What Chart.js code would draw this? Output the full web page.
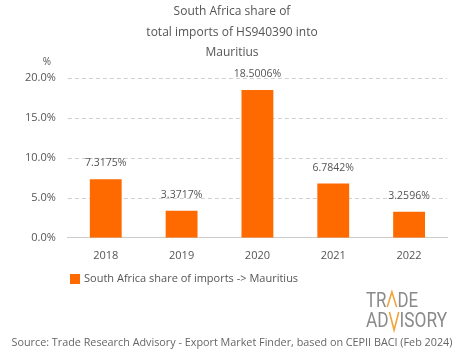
<!DOCTYPE html>
<html><head><meta charset="utf-8">
<script src="https://cdn.jsdelivr.net/npm/chart.js@4/dist/chart.umd.min.js"></script>
<style>html,body{margin:0;padding:0;background:#fff}#w{width:465px;height:359px;position:relative}</style>
</head><body><div id="w"><canvas id="c" width="465" height="359"></canvas></div>
<script>
const categories = ["2018","2019","2020","2021","2022"];
const shareValues = [7.3175, 3.3717, 18.5006, 6.7842, 3.2596];
const yTicks = [0, 5, 10, 15, 20];
const seriesName = "South Africa share of imports -> Mauritius";
const titleLines = ["South Africa share of","total imports of HS940390 into","Mauritius"];
const sourceText = "Source: Trade Research Advisory - Export Market Finder, based on CEPII BACI (Feb 2024)";
const FONT = "'Open Sans', sans-serif";
const TXT = "#555";
const BAR = '#ff6a00';

function drawWord(ctx, parts, x, y, targetW) {
  ctx.font = "21px 'Roboto', sans-serif";
  let total = 0;
  parts.forEach(p => total += ctx.measureText(p[0]).width);
  const sx = targetW / total;
  ctx.save();
  ctx.translate(x, y);
  ctx.scale(sx, 1);
  let cx = 0;
  parts.forEach(p => {
    const w = ctx.measureText(p[0]).width;
    if (p[1] === 'A') {
      ctx.strokeStyle = '#f2a33a'; ctx.lineWidth = 1.6 / sx;
      ctx.beginPath(); ctx.moveTo(cx + 1, 0); ctx.lineTo(cx + w / 2, -15); ctx.lineTo(cx + w - 1, 0); ctx.stroke();
    } else if (p[1] === 'V') {
      ctx.strokeStyle = '#f2a33a'; ctx.lineWidth = 1.6 / sx;
      ctx.beginPath(); ctx.moveTo(cx + 1, -15); ctx.lineTo(cx + w / 2, 3); ctx.lineTo(cx + w - 1, -15); ctx.stroke();
    } else {
      ctx.fillStyle = '#8a8a8a';
      ctx.fillText(p[0], cx, 0);
    }
    cx += w;
  });
  ctx.restore();
}

const extras = {
  id: 'extras',
  beforeDatasetsDraw(chart) {
    const ctx = chart.ctx, ys = chart.scales.y, a = chart.chartArea;
    ctx.save();
    ctx.strokeStyle = '#d0d0d0';
    ctx.lineWidth = 1;
    ctx.setLineDash([4, 3]);
    yTicks.forEach(v => {
      if (v === 0) return;
      const y = Math.round(ys.getPixelForValue(v)) + 0.5;
      ctx.beginPath(); ctx.moveTo(a.left, y); ctx.lineTo(a.right, y); ctx.stroke();
    });
    ctx.restore();
  },
  afterDraw(chart) {
    const ctx = chart.ctx;
    ctx.save();
    ctx.fillStyle = TXT;
    ctx.textAlign = 'center';
    ctx.textBaseline = 'middle';
    ctx.font = "12px " + FONT;
    const tys = [12, 33, 53];
    titleLines.forEach((t, i) => ctx.fillText(t, 232, tys[i]));
    ctx.font = "10px " + FONT;
    ctx.fillText('%', 47, 62);
    // data labels
    const meta = chart.getDatasetMeta(0);
    ctx.font = "10.5px " + FONT;
    meta.data.forEach((bar, i) => {
      ctx.fillText(shareValues[i].toFixed(4) + '%', bar.x, bar.y - 16);
    });
    // legend
    ctx.fillStyle = BAR;
    ctx.fillRect(70, 274, 10, 10);
    ctx.fillStyle = TXT;
    ctx.textAlign = 'left';
    ctx.font = "11px " + FONT;
    ctx.fillText(chart.data.datasets[0].label, 84, 279);
    // source
    ctx.textAlign = 'center';
    ctx.font = "10.8px " + FONT;
    ctx.fillStyle = '#666';
    ctx.fillText(sourceText, 232, 343);
    // logo
    ctx.textAlign = 'left';
    ctx.textBaseline = 'alphabetic';
    drawWord(ctx, [['TR',0],['A','A'],['DE',0]], 366, 307, 52);
    drawWord(ctx, [['AD',0],['V','V'],['ISORY',0]], 366, 327, 81);
    ctx.restore();
  }
};

new Chart(document.getElementById('c'), {
  type: 'bar',
  data: {
    labels: categories,
    datasets: [{
      label: seriesName,
      data: shareValues,
      backgroundColor: BAR,
      borderWidth: 0,
      barPercentage: 0.6,
      categoryPercentage: 0.7
    }]
  },
  options: {
    responsive: false,
    animation: false,
    devicePixelRatio: 1,
    layout: { padding: { top: 78, left: 13, right: 18, bottom: 86 } },
    plugins: {
      legend: { display: false },
      tooltip: { enabled: false },
      title: { display: false }
    },
    scales: {
      x: {
        grid: { display: false, drawTicks: false },
        border: { color: '#ccc' },
        ticks: { color: TXT, font: { size: 11, family: FONT }, padding: 11 }
      },
      y: {
        min: 0, max: 20,
        afterBuildTicks: (s) => { s.ticks = yTicks.map(v => ({ value: v })); },
        grid: { display: false, drawTicks: false },
        border: { display: false },
        ticks: { color: TXT, font: { size: 11, family: FONT }, padding: 12, callback: v => v.toFixed(1) + '%' }
      }
    }
  },
  plugins: [extras]
});
</script></body></html>
